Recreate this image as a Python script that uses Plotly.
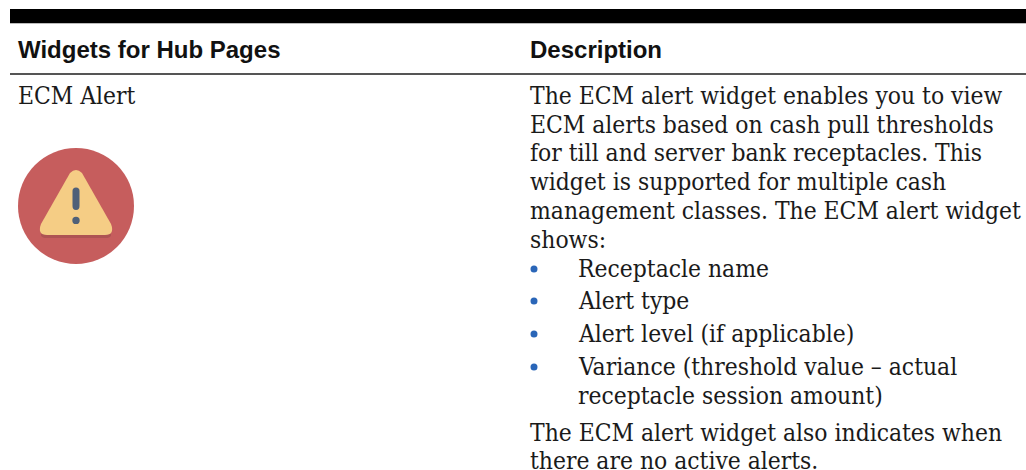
import plotly.graph_objects as go

W, H = 1026, 470
headers = ["Widgets for Hub Pages", "Description"]
left_cell = "ECM Alert"
para_1 = ["The ECM alert widget enables you to view", "ECM alerts based on cash pull thresholds",
          "for till and server bank receptacles. This", "widget is supported for multiple cash",
          "management classes. The ECM alert widget", "shows:"]
para_1_y = [95, 124, 152, 181, 210, 239]
bullets = ["Receptacle name", "Alert type", "Alert level (if applicable)",
           "Variance (threshold value \u2013 actual", "receptacle session amount)"]
bullet_y = [268, 300, 333, 366, 395]
bullet_dot_y = [269, 301, 334, 367]
para_2 = ["The ECM alert widget also indicates when", "there are no active alerts."]
para_2_y = [432, 460]

SERIF = "DejaVu Serif Condensed, DejaVu Serif"
SANS = "Liberation Sans"
INK = "#1a1a1a"
fs = 24.4

fig = go.Figure()
fig.add_trace(go.Scatter(x=[0, W], y=[0, H], mode="markers", marker=dict(opacity=0), hoverinfo="skip", showlegend=False))

def text(x, y, s, font=SERIF, size=fs, color=INK, bold=False):
    fig.add_annotation(x=x, y=y, text=f"<b>{s}</b>" if bold else s, showarrow=False, xanchor="left", yanchor="middle",
                       xshift=-2, align="left", font=dict(family=font, size=size, color=color))

text(18, 49, headers[0], SANS, 24, "#111111", True)
text(530, 49, headers[1], SANS, 24, "#111111", True)
text(18, 95, left_cell)
for s, y in zip(para_1, para_1_y):
    text(530, y, s)
for s, y in zip(bullets, bullet_y):
    text(578, y, s)
for s, y in zip(para_2, para_2_y):
    text(530, y, s)

shapes = [
    dict(type="rect", x0=10, x1=W, y0=9, y1=23, fillcolor="#000000", line_width=0),
    dict(type="rect", x0=10, x1=W, y0=23, y1=24, fillcolor="#bbbbbb", line_width=0),
    dict(type="rect", x0=10, x1=W, y0=73, y1=75, fillcolor="#555555", line_width=0),
    dict(type="circle", x0=18, x1=134, y0=148, y1=264, fillcolor="#c65d5d", line_width=0),
    dict(type="path", path="M 76 172 L 111 234 L 111 236 Q 109 238 107 238 L 45 238 Q 43 238 41 236 L 41 232 Z",
         fillcolor="#ae5353", line_width=0),
    dict(type="path", path="M 70 173 Q 76 167 82 173 L 111 224 Q 115 235 105 235 L 47 235 Q 37 235 41 224 Z",
         fillcolor="#f5cd85", line_width=0),
    dict(type="path", path="M 72.5 191 Q 72.5 187.5 76 187.5 Q 79.5 187.5 79.5 191 L 79.5 206 Q 79.5 210 76 210 Q 72.5 210 72.5 206 Z",
         fillcolor="#4f6078", line_width=0),
    dict(type="circle", x0=72.3, x1=79.7, y0=216.7, y1=224.1, fillcolor="#4f6078", line_width=0),
]
for y in bullet_dot_y:
    shapes.append(dict(type="circle", x0=530.5, x1=537.5, y0=y - 3.5, y1=y + 3.5, fillcolor="#2a66b8", line_width=0))

fig.update_layout(width=W, height=H, margin=dict(l=0, r=0, t=0, b=0), paper_bgcolor="white", plot_bgcolor="white",
                  shapes=shapes, showlegend=False,
                  xaxis=dict(range=[0, W], visible=False, fixedrange=True),
                  yaxis=dict(range=[H, 0], visible=False, fixedrange=True))
fig.write_html("out.html", config={"displayModeBar": False},
               post_script="document.documentElement.style.overflow='hidden';document.body.style.margin='0';window.dispatchEvent(new Event('resize'));")
